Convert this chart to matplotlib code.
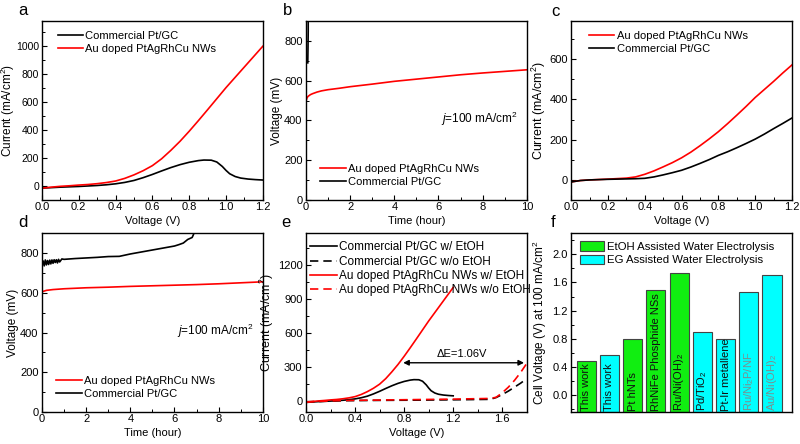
import numpy as np
import matplotlib
matplotlib.use('Agg')
import matplotlib.pyplot as plt
from matplotlib.ticker import MultipleLocator

plt.rcParams['font.family'] = ['Liberation Sans', 'DejaVu Sans']
plt.rcParams['mathtext.fontset'] = 'custom'
plt.rcParams['mathtext.rm'] = 'Liberation Sans'
plt.rcParams['mathtext.it'] = 'Liberation Sans:italic'
plt.rcParams['font.size'] = 8

# ---- panel a / e: LSV with ethanol
v_red = [0.0, 0.05, 0.1, 0.15, 0.2, 0.25, 0.3, 0.35, 0.4, 0.45, 0.5, 0.55, 0.6, 0.65,
         0.7, 0.75, 0.8, 0.85, 0.9, 0.95, 1.0, 1.05, 1.1, 1.15, 1.2]
i_red = [-15, -8, -2, 2, 7, 11, 17, 25, 36, 55, 80, 110, 146, 195,
         255, 320, 392, 468, 546, 625, 704, 778, 852, 926, 1000]
v_blk = [0.0, 0.1, 0.2, 0.3, 0.35, 0.4, 0.45, 0.5, 0.55, 0.6, 0.65, 0.7, 0.75, 0.8,
         0.85, 0.88, 0.92, 0.95, 0.98, 1.0, 1.02, 1.05, 1.08, 1.12, 1.16, 1.2]
i_blk = [-15, -8, -3, 4, 9, 16, 26, 40, 60, 83, 108, 132, 153, 170,
         182, 186, 185, 172, 140, 112, 88, 68, 57, 50, 46, 43]

# ---- panel b: chronopotentiometry
t_b_red = [0.0, 0.02, 0.05, 0.1, 0.2, 0.3, 0.5, 0.7, 1, 1.5, 2, 3, 4, 5, 6, 7, 8, 9, 10]
v_b_red = [495, 505, 515, 522, 530, 535, 543, 549, 555, 562, 570, 583, 597, 608, 619,
           630, 639, 647, 655]
t_b_blk = [0.08, 0.09, 0.1, 0.1]
v_b_blk = [690, 760, 850, 1000]

# ---- panel c: HER-like LSV
v_c = [0.0, 0.05, 0.1, 0.2, 0.3, 0.35, 0.4, 0.45, 0.5, 0.55, 0.6, 0.65, 0.7, 0.75,
       0.8, 0.85, 0.9, 0.95, 1.0, 1.05, 1.1, 1.15, 1.2]
i_c_red = [-10, -3, 0, 4, 9, 15, 28, 45, 65, 86, 110, 138, 170, 204,
           240, 280, 322, 365, 410, 450, 490, 532, 572]
i_c_blk = [-10, -3, 0, 3, 5, 6, 8, 15, 25, 36, 48, 64, 82, 101,
           122, 140, 160, 181, 203, 228, 255, 281, 308]

# ---- panel d: stability
t_d_red = [0.0, 0.2, 0.5, 1, 2, 3, 4, 5, 6, 7, 8, 9, 10]
v_d_red = [605, 612, 616, 620, 625, 628, 632, 635, 638, 641, 645, 650, 655]
t_d_blk = [0.0, 0.05, 0.1, 0.15, 0.2, 0.25, 0.3, 0.35, 0.4, 0.45, 0.5, 0.55, 0.6, 0.65,
           0.7, 0.75, 0.8, 0.9, 1.0, 1.5, 2.0, 2.5, 3.0, 3.5, 4.0, 4.5, 5.0, 5.5, 6.0,
           6.2, 6.4, 6.6, 6.8, 6.85, 6.9]
v_d_blk = [740, 760, 735, 765, 740, 762, 742, 764, 745, 765, 748, 766, 752, 766,
           750, 768, 755, 770, 768, 772, 775, 778, 782, 783, 795, 805, 815, 825, 835,
           842, 850, 868, 878, 890, 905]

# ---- panel e: without ethanol
v_e_dash = [0.0, 0.3, 0.6, 0.9, 1.2, 1.5, 1.55, 1.6, 1.65, 1.7, 1.75, 1.8]
i_e_blk_dash = [-10, 0, 3, 5, 8, 12, 28, 55, 85, 120, 155, 195]
i_e_red_dash = [-10, 2, 6, 10, 14, 20, 30, 70, 120, 180, 250, 330]

# ---- panel f: comparison
bar_names = ['This work', 'This work', 'Pt hNTs', 'RhNiFe Phosphide NSs', 'Ru/Ni(OH)$_2$',
             'Pd/TiO$_2$', 'Pt-Ir metallene', 'Ru/Ni$_2$P/NF', 'Au/Ni(OH)$_2$']
bar_vals = [0.49, 0.57, 0.80, 1.49, 1.73, 0.90, 0.80, 1.46, 1.70]
bar_kind = ['EtOH', 'EG', 'EtOH', 'EtOH', 'EtOH', 'EG', 'EG', 'EG', 'EG']

RED = '#ff0000'
GREEN = '#11ee11'
CYAN = '#00ffff'
cur_label = 'Current (mA/cm$^2$)'

fig = plt.figure(figsize=(8, 4.44), dpi=100)
W, H = 0.276, 0.403
lefts = [0.0525, 0.3825, 0.714]
ax_a = fig.add_axes([lefts[0], 0.5495, W, H])
ax_b = fig.add_axes([lefts[1], 0.5495, W, H])
ax_c = fig.add_axes([lefts[2], 0.5495, W, H])
ax_d = fig.add_axes([lefts[0], 0.072, W, H])
ax_e = fig.add_axes([lefts[1], 0.072, W, H])
ax_f = fig.add_axes([lefts[2], 0.072, W, H])


def style(ax, xmaj, xmin, ymaj, ymin):
    if xmaj is not None:
        ax.xaxis.set_major_locator(MultipleLocator(xmaj))
        ax.xaxis.set_minor_locator(MultipleLocator(xmin))
    ax.yaxis.set_major_locator(MultipleLocator(ymaj))
    ax.yaxis.set_minor_locator(MultipleLocator(ymin))
    ax.tick_params(which='both', direction='in', labelsize=8)
    ax.tick_params(axis='x', which='both', pad=1.5)
    ax.tick_params(axis='y', which='both', pad=2.5)
    ax.tick_params(which='major', length=3.5, width=0.8)
    ax.tick_params(which='minor', length=2, width=0.7)
    for s in ax.spines.values():
        s.set_linewidth(1.0)


leg_kw = dict(frameon=False, fontsize=8, handlelength=2.3, handletextpad=0.2,
              labelspacing=0.3, borderaxespad=0.3)

# a
ax_a.plot(v_blk, i_blk, color='k', lw=1.2, label='Commercial Pt/GC')
ax_a.plot(v_red, i_red, color=RED, lw=1.2, label='Au doped PtAgRhCu NWs')
ax_a.set_xlim(0, 1.2)
ax_a.set_ylim(-100, 1180)
style(ax_a, 0.2, 0.1, 200, 100)
ax_a.tick_params(axis='y', labelsize=7.5, pad=2)
ax_a.xaxis.set_major_formatter(plt.FormatStrFormatter('%.1f'))
ax_a.set_ylabel(cur_label, fontsize=8.5)
ax_a.yaxis.set_label_coords(-0.112, 0.5)
ax_a.set_xlabel('Voltage (V)', fontsize=8, labelpad=3)
ax_a.legend(loc='upper left', bbox_to_anchor=(0.035, 0.99), **leg_kw)

# b
ax_b.plot(t_b_red, v_b_red, color=RED, lw=1.2, label='Au doped PtAgRhCu NWs')
ax_b.plot(t_b_blk, v_b_blk, color='k', lw=1.2, label='Commercial Pt/GC')
ax_b.set_xlim(0, 10)
ax_b.set_ylim(0, 900)
style(ax_b, 2, 1, 200, 100)
ax_b.set_ylabel('Voltage (mV)', fontsize=8.5, labelpad=1)
ax_b.set_xlabel('Time (hour)', fontsize=8, labelpad=3)
ax_b.text(7.85, 410, '$j$=100 mA/cm$^2$', fontsize=8.5, ha='center', va='center')
ax_b.legend(loc='lower left', bbox_to_anchor=(0.03, 0.03), **leg_kw)

# c
ax_c.plot(v_c, i_c_red, color=RED, lw=1.2, label='Au doped PtAgRhCu NWs')
ax_c.plot(v_c, i_c_blk, color='k', lw=1.2, label='Commercial Pt/GC')
ax_c.set_xlim(0, 1.2)
ax_c.set_ylim(-100, 790)
style(ax_c, 0.2, 0.1, 200, 100)
ax_c.xaxis.set_major_formatter(plt.FormatStrFormatter('%.1f'))
ax_c.set_ylabel(cur_label, fontsize=9, labelpad=1)
ax_c.set_xlabel('Voltage (V)', fontsize=8, labelpad=3)
ax_c.legend(loc='upper left', bbox_to_anchor=(0.045, 0.99), **leg_kw)

# d
ax_d.plot(t_d_red, v_d_red, color=RED, lw=1.2, label='Au doped PtAgRhCu NWs')
ax_d.plot(t_d_blk, v_d_blk, color='k', lw=1.2, label='Commercial Pt/GC')
ax_d.set_xlim(0, 10)
ax_d.set_ylim(0, 900)
style(ax_d, 2, 1, 200, 100)
ax_d.set_ylabel('Voltage (mV)', fontsize=8.5, labelpad=1)
ax_d.set_xlabel('Time (hour)', fontsize=8, labelpad=3)
ax_d.text(7.85, 410, '$j$=100 mA/cm$^2$', fontsize=8.5, ha='center', va='center')
ax_d.legend(loc='lower left', bbox_to_anchor=(0.03, 0.03), **leg_kw)

# e
ax_e.plot(v_blk, i_blk, color='k', lw=1.2, label='Commercial Pt/GC w/ EtOH')
ax_e.plot(v_e_dash, i_e_blk_dash, color='k', lw=1.2, dashes=(5, 3), label='Commercial Pt/GC w/o EtOH')
ax_e.plot(v_red, i_red, color=RED, lw=1.2, label='Au doped PtAgRhCu NWs w/ EtOH')
ax_e.plot(v_e_dash, i_e_red_dash, color=RED, lw=1.2, dashes=(5, 3), label='Au doped PtAgRhCu NWs w/o EtOH')
ax_e.set_xlim(0, 1.8)
ax_e.set_ylim(-100, 1480)
style(ax_e, 0.4, 0.2, 300, 150)
ax_e.xaxis.set_major_formatter(plt.FormatStrFormatter('%.1f'))
ax_e.set_ylabel(cur_label, fontsize=9, labelpad=1)
ax_e.set_xlabel('Voltage (V)', fontsize=8, labelpad=3)
ax_e.annotate('', xy=(0.77, 335), xytext=(1.8, 335),
              arrowprops=dict(arrowstyle='<|-|>', color='k', lw=1.0, mutation_scale=8))
ax_e.text(1.27, 415, '\u0394E=1.06V', fontsize=8, ha='center', va='center')
ax_e.legend(loc='upper left', bbox_to_anchor=(-0.02, 1.0),
            **dict(leg_kw, fontsize=8.5, labelspacing=0.2))

# f
xb = np.arange(1, len(bar_vals) + 1)
ybot = -0.24
cols = [GREEN if k == 'EtOH' else CYAN for k in bar_kind]
ax_f.bar(xb, np.array(bar_vals) - ybot, bottom=ybot, width=0.82, color=cols,
         edgecolor='#444444', linewidth=0.8)
for x, name in zip(xb, bar_names):
    tc = '#111111'
    if name in ('Ru/Ni$_2$P/NF', 'Au/Ni(OH)$_2$'):
        tc = '#7a8f8f'
    ax_f.text(x, ybot + 0.02, name, rotation=90, ha='center', va='bottom', fontsize=8, color=tc)
ax_f.bar([0], [0], color=GREEN, edgecolor='#444444', linewidth=0.8, label='EtOH Assisted Water Electrolysis')
ax_f.bar([0], [0], color=CYAN, edgecolor='#444444', linewidth=0.8, label='EG Assisted Water Electrolysis')
ax_f.set_xlim(0.36, 9.86)
ax_f.set_ylim(ybot, 2.3)
style(ax_f, None, None, 0.4, 0.2)
ax_f.yaxis.set_major_formatter(plt.FormatStrFormatter('%.1f'))
ax_f.set_xticks([])
ax_f.set_ylabel('Cell Voltage (V) at 100 mA/cm$^2$', fontsize=8.5, labelpad=2)
ax_f.legend(loc='upper left', bbox_to_anchor=(0.01, 0.995), frameon=False,
            fontsize=8.2, handlelength=2.1, handleheight=0.95, handletextpad=0.25,
            labelspacing=0.25, borderaxespad=0.2)

# panel letters
for lab, x, y in [('a', 0.029, 0.977), ('b', 0.36, 0.977), ('c', 0.694, 0.975),
                  ('d', 0.029, 0.5), ('e', 0.357, 0.5), ('f', 0.691, 0.5)]:
    fig.text(x, y, lab, fontsize=12, ha='center', va='center')

fig.savefig('out.png', dpi=100)
